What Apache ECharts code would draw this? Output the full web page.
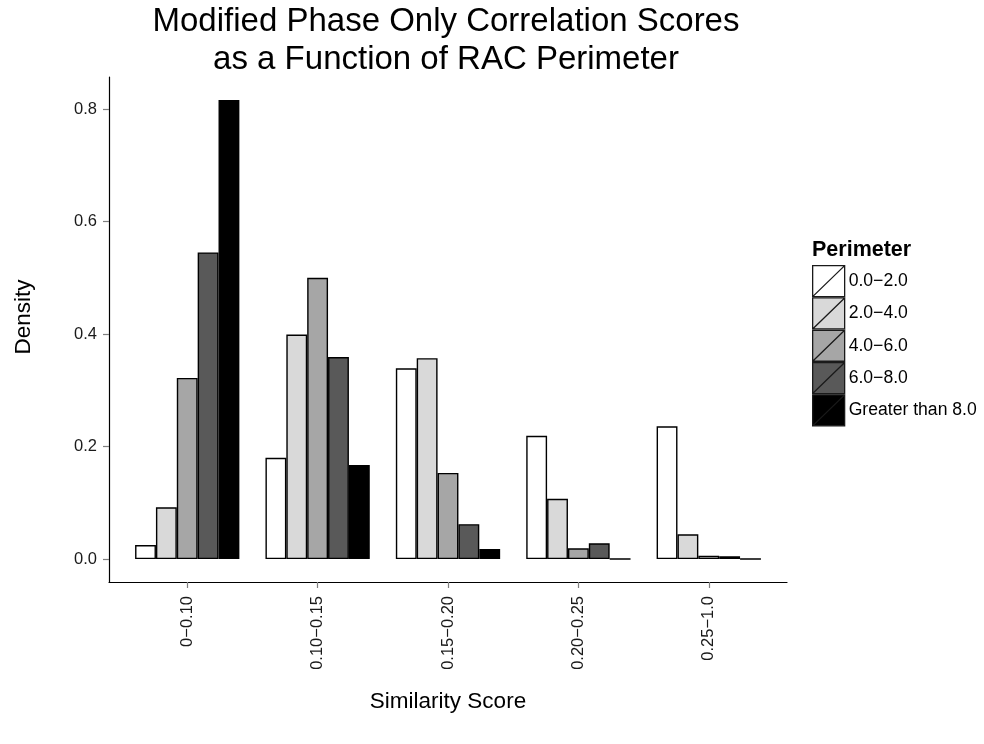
<!DOCTYPE html>
<html>
<head>
<meta charset="utf-8">
<script src="https://cdn.jsdelivr.net/npm/echarts@6/dist/echarts.min.js"></script>
<style>
html,body{margin:0;padding:0;background:#fff;}
#chart{width:984px;height:744px;}
</style>
</head>
<body>
<div id="chart"></div>
<script>
// ---- data ----
const categories = ['0\u22120.10', '0.10\u22120.15', '0.15\u22120.20', '0.20\u22120.25', '0.25\u22121.0'];
const perimeterGroups = ['0.0\u22122.0', '2.0\u22124.0', '4.0\u22126.0', '6.0\u22128.0', 'Greater than 8.0'];
const values_0_2   = [0.025, 0.180, 0.339, 0.219, 0.236];
const values_2_4   = [0.092, 0.399, 0.357, 0.107, 0.044];
const values_4_6   = [0.322, 0.500, 0.153, 0.019, 0.006];
const values_6_8   = [0.545, 0.359, 0.062, 0.028, 0.005];
const values_gt_8  = [0.816, 0.167, 0.018, 0.000, 0.000];
const yTicks = [0, 0.2, 0.4, 0.6, 0.8];
const seriesValues = [values_0_2, values_2_4, values_4_6, values_6_8, values_gt_8];
const fills = ['#FFFFFF', '#D9D9D9', '#A6A6A6', '#595959', '#000000'];

const FONT = "'Liberation Sans', Arial, Helvetica, sans-serif";
const catIdx = categories.map((c, i) => i);

const chart = echarts.init(document.getElementById('chart'), null, {renderer: 'canvas'});
const option = {
  animation: false,
  backgroundColor: '#ffffff',
  title: [
    {
      text: 'Modified Phase Only Correlation Scores\nas a Function of RAC Perimeter',
      left: 446, top: 3, textAlign: 'center', padding: 0,
      textStyle: {fontFamily: FONT, fontSize: 33, fontWeight: 'normal', color: '#000', lineHeight: 38}
    },
    {
      text: 'Perimeter',
      left: 812, top: 239, padding: 0,
      textStyle: {fontFamily: FONT, fontSize: 21.5, fontWeight: 'bold', color: '#000'}
    }
  ],
  graphic: [{
    type: 'text', x: 24, y: 317, rotation: Math.PI / 2,
    style: {text: 'Density', fontFamily: FONT, fontSize: 22.5, fill: '#000', align: 'center', verticalAlign: 'middle'}
  }],
  legend: {
    orient: 'vertical',
    left: 812, top: 265, padding: 0,
    itemWidth: 32, itemHeight: 31, itemGap: 0,
    icon: 'path://M0,0L32,0L32,31L0,31ZM0,31L32,0',
    itemStyle: {borderColor: '#1a1a1a', borderWidth: 1.3},
    textStyle: {fontFamily: FONT, fontSize: 17.6, color: '#000', padding: [0, 0, 0, -1]},
    data: perimeterGroups,
    selectedMode: false
  },
  grid: {left: 109, right: 197, top: 77, bottom: 162, containLabel: false, outerBoundsMode: 'none'},
  xAxis: {
    type: 'value', min: -0.6, max: 4.6,
    name: 'Similarity Score', nameLocation: 'middle', nameGap: 108,
    nameTextStyle: {fontFamily: FONT, fontSize: 22.5, color: '#000'},
    axisLine: {show: true, onZero: false, lineStyle: {color: '#000', width: 1.2}},
    axisTick: {show: true, customValues: catIdx, length: 6, lineStyle: {color: '#7f7f7f', width: 1.2}},
    axisLabel: {
      show: true, customValues: catIdx, rotate: 90, margin: 14,
      fontFamily: FONT, fontSize: 16.5, color: '#1a1a1a',
      formatter: v => categories[Math.round(v)]
    },
    splitLine: {show: false}
  },
  yAxis: {
    type: 'value', min: -0.0408, max: 0.8568,
    axisLine: {show: true, onZero: false, lineStyle: {color: '#000', width: 1.2}},
    axisTick: {show: true, customValues: yTicks, length: 6, lineStyle: {color: '#7f7f7f', width: 1.2}},
    axisLabel: {
      show: true, customValues: yTicks, margin: 12,
      fontFamily: FONT, fontSize: 16.5, color: '#1a1a1a',
      formatter: v => v.toFixed(1)
    },
    splitLine: {show: false}
  },
  series: seriesValues.map((vals, s) => ({
    name: perimeterGroups[s],
    type: 'bar',
    barGap: '0%',
    barCategoryGap: '20%',
    data: vals.map((v, i) => [i, v]),
    itemStyle: {color: fills[s], borderColor: '#000', borderWidth: 1.4},
    emphasis: {disabled: true}
  }))
};
chart.setOption(option);
</script>
</body>
</html>
